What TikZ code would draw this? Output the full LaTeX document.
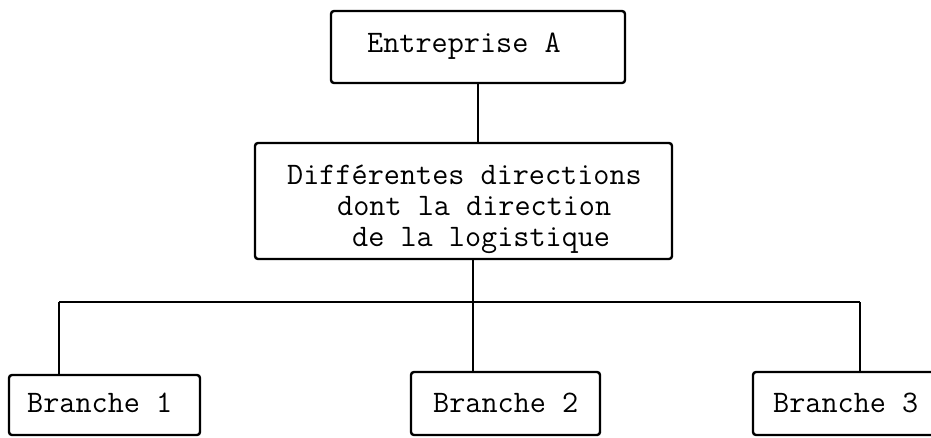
\documentclass[tikz,border=0pt]{standalone}
\usepackage{fontspec}
\begin{document}
\begin{tikzpicture}[x=1pt,y=-1pt,
  box/.style={draw,line width=2.4pt,rounded corners=3pt,inner sep=0pt},
  txt/.style={anchor=base west,inner sep=0pt,font=\ttfamily\fontsize{31.3}{34}\selectfont},
  link/.style={line width=2.6pt}]
\useasboundingbox (0,0) rectangle (931,437);
% boxes
\node[box,minimum width=294pt,minimum height=72pt] (top) at (478,47) {};
\node[box,minimum width=417pt,minimum height=116pt] (mid) at (463.5,201) {};
\node[box,minimum width=191pt,minimum height=60pt] (b1) at (104.5,405) {};
\node[box,minimum width=189pt,minimum height=63pt] (b2) at (505.5,403.5) {};
\node[box,minimum width=192pt,minimum height=63pt] (b3) at (849,403.5) {};
% texts
\node[txt] (t0) at (367,52) {Entreprise A};
\node[txt] (t1) at (287,184) {Différentes directions};
\node[txt] (t2) at (337,215) {dont la direction};
\node[txt] (t3) at (352,246) {de la logistique};
\node[txt] (tb1) at (27,412) {Branche 1};
\node[txt] (tb2) at (433,412) {Branche 2};
\node[txt] (tb3) at (773,412) {Branche 3};
% connectors
\coordinate (hl) at (59,302);
\coordinate (hr) at (860,302);
\coordinate (j) at (473,302);
\draw[link] (top.south) -- (top.south |- mid.north);
\draw[link] (j |- mid.south) -- (j |- b2.north);
\draw[link] (hl) -- (hr);
\draw[link] (hl) -- (hl |- b1.north);
\draw[link] (hr) -- (hr |- b3.north);
\end{tikzpicture}
\end{document}
